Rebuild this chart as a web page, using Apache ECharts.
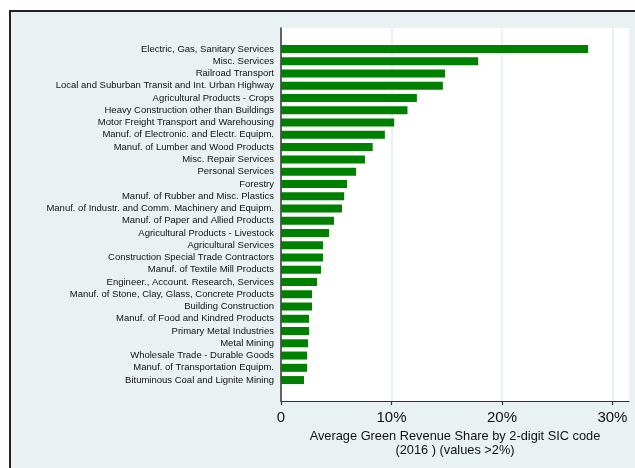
<!DOCTYPE html>
<html>
<head>
<meta charset="utf-8">
<script src="https://cdn.jsdelivr.net/npm/echarts@6/dist/echarts.min.js"></script>
<style>
  html, body { margin: 0; padding: 0; background: #ffffff; }
  #chart { width: 635px; height: 468px; }
</style>
</head>
<body>
<div id="chart"></div>
<script>
// 2-digit SIC industries, top to bottom
const industries = [
  'Electric, Gas, Sanitary Services',
  'Misc. Services',
  'Railroad Transport',
  'Local and Suburban Transit and Int. Urban Highway',
  'Agricultural Products - Crops',
  'Heavy Construction other than Buildings',
  'Motor Freight Transport and Warehousing',
  'Manuf. of Electronic. and Electr. Equipm.',
  'Manuf. of Lumber and Wood Products',
  'Misc. Repair Services',
  'Personal Services',
  'Forestry',
  'Manuf. of Rubber and Misc. Plastics',
  'Manuf. of Industr. and Comm. Machinery and Equipm.',
  'Manuf. of Paper and Allied Products',
  'Agricultural Products - Livestock',
  'Agricultural Services',
  'Construction Special Trade Contractors',
  'Manuf. of Textile Mill Products',
  'Engineer., Account. Research, Services',
  'Manuf. of Stone, Clay, Glass, Concrete Products',
  'Building Construction',
  'Manuf. of Food and Kindred Products',
  'Primary Metal Industries',
  'Metal Mining',
  'Wholesale Trade - Durable Goods',
  'Manuf. of Transportation Equipm.',
  'Bituminous Coal and Lignite Mining'
];

// Average green revenue share (%), 2016
const greenShare = [
  27.8, 17.85, 14.85, 14.65, 12.3, 11.45, 10.25, 9.4, 8.3, 7.6,
  6.8, 5.98, 5.72, 5.52, 4.8, 4.35, 3.8, 3.8, 3.62, 3.26,
  2.81, 2.81, 2.54, 2.54, 2.45, 2.36, 2.36, 2.08
];

// Horizontal axis ticks (%)
const xTicks = [0, 10, 20, 30];
const xMax = 31.5;

const FONT = '"Liberation Sans", Arial, Helvetica, sans-serif';
const chart = echarts.init(document.getElementById('chart'), null, { renderer: 'canvas' });

// plot region and the band area holding the bars
const plot = { left: 281, top: 28, width: 348, height: 373 };
const bandTop = 42.9, bandHeight = 343.3;

chart.setOption({
  backgroundColor: '#ffffff',
  animation: false,
  graphic: [{
    type: 'rect',
    z: -10,
    silent: true,
    shape: { x: 10, y: 11, width: 700, height: 600 },
    style: { fill: '#e9f1f3', stroke: '#222222', lineWidth: 2 }
  }],
  grid: [
    { // bars
      left: plot.left, top: bandTop, width: plot.width, height: bandHeight,
      containLabel: false
    },
    { // axes frame and white plot area
      left: plot.left, top: plot.top, width: plot.width, height: plot.height,
      show: true, backgroundColor: '#ffffff', borderWidth: 0,
      containLabel: false, z: 0
    }
  ],
  xAxis: [
    {
      gridIndex: 0, type: 'value', min: 0, max: xMax, interval: 10,
      show: false
    },
    {
      gridIndex: 1, type: 'value', min: 0, max: xMax, interval: 10,
      axisLine: { show: true, onZero: false, lineStyle: { color: '#333333', width: 1.2 } },
      axisTick: { show: true, length: 4, customValues: xTicks,
                  lineStyle: { color: '#333333', width: 1.2 } },
      axisLabel: {
        customValues: xTicks,
        margin: 9,
        fontFamily: FONT, fontSize: 15, color: '#111111',
        formatter: v => (v === 0 ? '0' : v + '%')
      },
      splitLine: { show: true, lineStyle: { color: '#e3ecef', width: 1.5 } },
      name: 'Average Green Revenue Share by 2-digit SIC code\n(2016 ) (values >2%)',
      nameLocation: 'middle',
      nameGap: 25,
      nameTextStyle: {
        fontFamily: FONT, fontSize: 12.8, color: '#111111',
        lineHeight: 14, verticalAlign: 'top', align: 'center'
      }
    }
  ],
  yAxis: [
    {
      gridIndex: 0, type: 'category', data: industries, inverse: true,
      axisLine: { show: false },
      axisTick: { show: false },
      axisLabel: {
        interval: 0,
        margin: 7, fontFamily: FONT, fontSize: 9.5, color: '#111111'
      },
      splitLine: { show: false }
    },
    {
      gridIndex: 1, type: 'value', min: 0, max: 1,
      axisLine: { show: true, lineStyle: { color: '#333333', width: 1.5 } },
      axisTick: { show: false },
      axisLabel: { show: false },
      splitLine: { show: false }
    }
  ],
  series: [{
    type: 'bar',
    xAxisIndex: 0, yAxisIndex: 0,
    data: greenShare,
    barWidth: 8,
    itemStyle: { color: '#008000' },
    z: 5
  }]
});
</script>
</body>
</html>
